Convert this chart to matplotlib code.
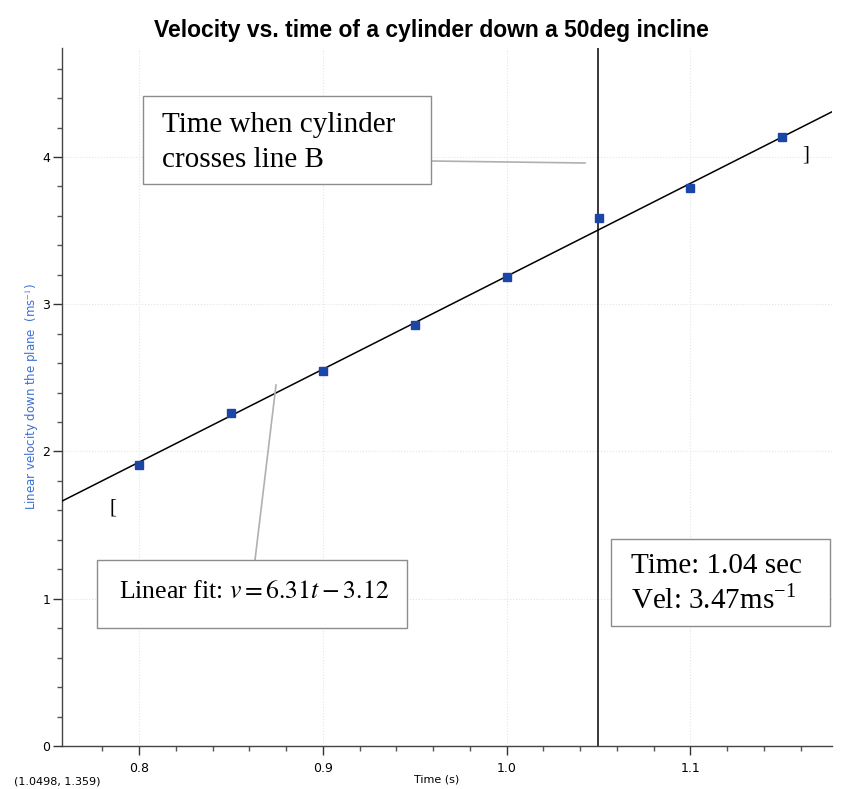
import numpy as np
import matplotlib
matplotlib.use('Agg')
import matplotlib.pyplot as plt
from matplotlib.patches import Rectangle
from matplotlib.lines import Line2D

plt.rcParams['mathtext.fontset'] = 'stix'

# measured data
t = [0.80, 0.85, 0.90, 0.95, 1.00, 1.05, 1.10, 1.15]
v = [1.908, 2.26, 2.546, 2.858, 3.184, 3.585, 3.788, 4.134]

# linear fit shown on the chart
slope = 6.31
intercept = -3.12
t_cross = 1.0498

W, H = 842, 789
fig = plt.figure(figsize=(W / 100, H / 100), dpi=100)
ax = fig.add_axes([62 / W, 1 - 746 / H, (832 - 62) / W, (746 - 48) / H])

xmin, xmax = 0.758, 1.177
tt = np.array([xmin, xmax])
ax.plot(tt, slope * tt + intercept, color='black', lw=1.1, zorder=3)
ax.plot(t, v, 's', color='#1c45a8', ms=5.5, zorder=4)
ax.axvline(t_cross, color='#2a2a2a', lw=1.3, zorder=2)

ax.set_xlim(xmin, xmax)
ax.set_ylim(0, 4.74)
ax.set_xticks([0.8, 0.9, 1.0, 1.1])
ax.set_xticklabels(['0.8', '0.9', '1.0', '1.1'])
ax.set_xticks(np.arange(0.78, 1.18, 0.02), minor=True)
ax.set_yticks([0, 1, 2, 3, 4])
ax.set_yticks(np.arange(0, 4.8, 0.2), minor=True)
ax.tick_params(which='major', length=6.5, width=1, labelsize=9, color='#333333', pad=2)
ax.tick_params(axis='x', which='major', pad=5)
ax.tick_params(which='minor', length=3.5, width=1, color='#555555')
ax.grid(True, which='major', color='#e4e4e4', lw=0.8, ls=':')
for s in ['top', 'right']:
    ax.spines[s].set_visible(False)
for s in ['left', 'bottom']:
    ax.spines[s].set_color('#444444')
    ax.spines[s].set_linewidth(1.0)

ax.set_ylabel('Linear velocity down the plane  (ms$^{-1}$)', color='#3b6fd6',
              fontsize=8.5, labelpad=1, family='DejaVu Sans')

fig.text(437 / W, 1 - 780 / H, 'Time (s)', ha='center', va='center', fontsize=8)
fig.text(14 / W, 1 - 782 / H, '(1.0498, 1.359)', ha='left', va='center', fontsize=8)
fig.text(431 / W, 1 - 30 / H, 'Velocity vs. time of a cylinder down a 50deg incline',
         ha='center', va='center', fontsize=16.5, fontweight='bold',
         family=['Liberation Sans Narrow', 'Liberation Sans'])


def box(x0, y0, x1, y1):
    fig.add_artist(Rectangle((x0 / W, 1 - y1 / H), (x1 - x0) / W, (y1 - y0) / H,
                             transform=fig.transFigure, fill=True, facecolor='white',
                             edgecolor='#8c8c8c', lw=1.0, zorder=5))


def link(x0, y0, x1, y1):
    fig.add_artist(Line2D([x0 / W, x1 / W], [1 - y0 / H, 1 - y1 / H],
                          transform=fig.transFigure, color='#b0b0b0', lw=1.2, zorder=5))


serif = 'Liberation Serif'

# box: time when cylinder crosses line B
link(431, 161, 585, 163)
box(143, 96, 431, 184)
fig.text(162 / W, 1 - 125 / H, 'Time when cylinder', fontsize=21, family=serif,
         va='center', ha='left', zorder=6)
fig.text(162 / W, 1 - 160 / H, 'crosses line B', fontsize=21, family=serif,
         va='center', ha='left', zorder=6)

# box: linear fit
link(255, 560, 276, 385)
box(97, 560, 407, 628)
fig.text(119 / W, 1 - 592 / H, 'Linear fit: $v = 6.31t - 3.12$', fontsize=18.5,
         family=serif, va='center', ha='left', zorder=6)

# box: readout
box(611, 539, 830, 626)
fig.text(631 / W, 1 - 566 / H, 'Time: 1.04 sec', fontsize=21, family=serif,
         va='center', ha='left', zorder=6)
fig.text(631 / W, 1 - 601 / H, 'Vel: 3.47ms$^{\\mathregular{-1}}$', fontsize=21, family=serif,
         va='center', ha='left', zorder=6)

# fit range brackets
fig.text(113 / W, 1 - 508 / H, '[', fontsize=15, family=serif, va='center', ha='center')
fig.text(806 / W, 1 - 155 / H, ']', fontsize=15, family=serif, va='center', ha='center')

fig.savefig('out.png', dpi=100)
